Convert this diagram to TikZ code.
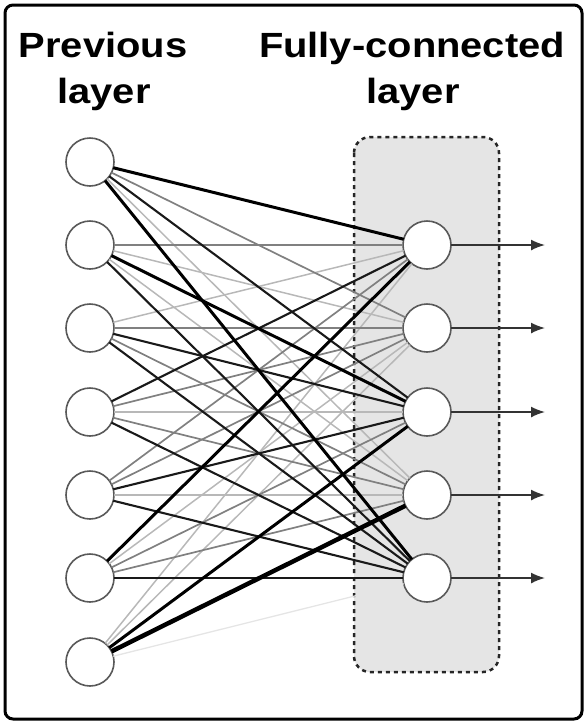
\documentclass[tikz,border=0pt]{standalone}
\usepackage{fontspec}
\setmainfont{Liberation Sans}[FakeStretch=1.14]
\usetikzlibrary{arrows.meta}

\tikzset{
  neuron/.style={circle, draw=black!65, line width=1.6pt, fill=white,
    minimum size=48pt, inner sep=0pt, outer sep=0pt},
  title/.style={font=\fontsize{35}{42}\selectfont\bfseries, anchor=base, inner sep=0pt},
  wfaint/.style={black!10, line width=1.3pt},
  wlight/.style={black!28, line width=1.5pt},
  wmid/.style={black!50, line width=1.7pt},
  wdark/.style={black!90, line width=2.1pt},
  wheavy/.style={black, line width=3pt},
  wmax/.style={black, line width=4.5pt},
  outarrow/.style={draw=black!80, line width=1.6pt, -{Latex[length=14pt,width=11pt]}},
}

\begin{document}
\begin{tikzpicture}[x=1pt, y=-1pt]
  \useasboundingbox (0,0) rectangle (588,724);
  \draw[black, line width=3pt, rounded corners=8pt] (5,5) rectangle (582,719);

  \node[title] (prevtop) at (103,57) {Previous};
  \node[title] (prevbot) at (104,103) {layer};
  \node[title] (fctop) at (412,57) {Fully-connected};
  \node[title] (fcbot) at (413,103) {layer};

  \draw[fill=black!10, draw=black!85, line width=2.5pt, dash pattern=on 4pt off 4pt,
    rounded corners=16pt] (354,137) rectangle (499,672);

  \node[neuron] (prev1) at (90,162) {};
  \node[neuron] (prev2) at (90,245) {};
  \node[neuron] (prev3) at (90,328) {};
  \node[neuron] (prev4) at (90,412) {};
  \node[neuron] (prev5) at (90,495) {};
  \node[neuron] (prev6) at (90,578) {};
  \node[neuron] (prev7) at (90,662) {};
  \node[neuron] (fc1) at (427,245) {};
  \node[neuron] (fc2) at (427,328) {};
  \node[neuron] (fc3) at (427,412) {};
  \node[neuron] (fc4) at (427,495) {};
  \node[neuron] (fc5) at (427,578) {};

  % weights, lightest first
  \draw[wfaint] (prev7) -- (fc5);
  \draw[wlight] (prev1) -- (fc4);
  \draw[wlight] (prev2) -- (fc2);
  \draw[wlight] (prev2) -- (fc4);
  \draw[wlight] (prev3) -- (fc1);
  \draw[wlight] (prev4) -- (fc3);
  \draw[wlight] (prev5) -- (fc4);
  \draw[wlight] (prev6) -- (fc2);
  \draw[wlight] (prev7) -- (fc1);
  \draw[wlight] (prev7) -- (fc2);
  \draw[wmid] (prev1) -- (fc2);
  \draw[wmid] (prev2) -- (fc1);
  \draw[wmid] (prev3) -- (fc2);
  \draw[wmid] (prev3) -- (fc4);
  \draw[wmid] (prev4) -- (fc2);
  \draw[wmid] (prev4) -- (fc4);
  \draw[wmid] (prev5) -- (fc1);
  \draw[wmid] (prev5) -- (fc2);
  \draw[wmid] (prev6) -- (fc3);
  \draw[wmid] (prev6) -- (fc4);
  \draw[wdark] (prev1) -- (fc3);
  \draw[wdark] (prev2) -- (fc5);
  \draw[wdark] (prev3) -- (fc3);
  \draw[wdark] (prev3) -- (fc5);
  \draw[wdark] (prev4) -- (fc1);
  \draw[wdark] (prev4) -- (fc5);
  \draw[wdark] (prev5) -- (fc3);
  \draw[wdark] (prev5) -- (fc5);
  \draw[wdark] (prev6) -- (fc5);
  \draw[wheavy] (prev1) -- (fc1);
  \draw[wheavy] (prev1) -- (fc5);
  \draw[wheavy] (prev2) -- (fc3);
  \draw[wheavy] (prev6) -- (fc1);
  \draw[wheavy] (prev7) -- (fc3);
  \draw[wmax] (prev7) -- (fc4);

  \coordinate (out1) at (545,245);
  \coordinate (out2) at (545,328);
  \coordinate (out3) at (545,412);
  \coordinate (out4) at (545,495);
  \coordinate (out5) at (545,578);
  \draw[outarrow] (fc1) -- (out1);
  \draw[outarrow] (fc2) -- (out2);
  \draw[outarrow] (fc3) -- (out3);
  \draw[outarrow] (fc4) -- (out4);
  \draw[outarrow] (fc5) -- (out5);
\end{tikzpicture}
\end{document}
